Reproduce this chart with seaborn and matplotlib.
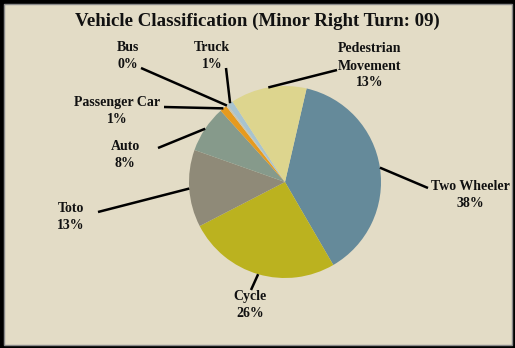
import numpy as np
import matplotlib
matplotlib.use("Agg")
import matplotlib.pyplot as plt
import seaborn as sns
from matplotlib.patches import Rectangle

# ---- data ----
categories = ["Two Wheeler", "Cycle", "Toto", "Auto", "Passenger Car", "Bus", "Truck", "Pedestrian\nMovement"]
shares = [38.0, 25.8, 13.0, 7.9, 1.2, 0.3, 1.0, 12.8]
colors = ["#658A9A", "#BBB21F", "#8F8A78", "#869A8B", "#E69A1E", "#C9C4B0", "#A8C3CE", "#DDD58E"]
title = "Vehicle Classification (Minor Right Turn: 09)"

# ---- layout (pixels in a 515x348 canvas) ----
W, H = 515, 348
cx, cy, R = 285, 182, 96
label_xy = {  # text block centre
    "Two Wheeler": (470, 195), "Cycle": (250, 305), "Toto": (71, 217), "Auto": (125, 155),
    "Passenger Car": (117, 111), "Bus": (128, 56), "Truck": (212, 56), "Pedestrian\nMovement": (370, 66),
}
line_end = {  # outer end of leader line
    "Two Wheeler": (428, 188), "Cycle": (251, 290), "Toto": (98, 212), "Auto": (158, 148),
    "Passenger Car": (164, 107), "Bus": (141, 68), "Truck": (226, 68), "Pedestrian\nMovement": (337, 70),
}

sns.set_theme(style="white")
plt.rcParams["font.family"] = ["Liberation Serif", "DejaVu Serif"]

bg = "#E3DCC6"
fig = plt.figure(figsize=(W / 100, H / 100), dpi=100)
fig.patch.set_facecolor(bg)
ax = fig.add_axes([(cx - R) / W, (H - cy - R) / H, 2 * R / W, 2 * R / H])
ax.set_facecolor("none")

wedges, _ = ax.pie(shares, colors=colors, startangle=90 - 13, counterclock=False,
                   radius=1.0, wedgeprops=dict(linewidth=0))
ax.set_xlim(-1, 1)
ax.set_ylim(-1, 1)
ax.set_aspect("equal")
ax.axis("off")

def to_data(px, py):
    return (px - cx) / R, (cy - py) / R

for w, cat, v in zip(wedges, categories, shares):
    mid = np.deg2rad((w.theta1 + w.theta2) / 2)
    x0, y0 = np.cos(mid), np.sin(mid)
    x1, y1 = to_data(*line_end[cat])
    ax.plot([x0, x1], [y0, y1], color="black", lw=1.8, clip_on=False, solid_capstyle="butt")
    tx, ty = to_data(*label_xy[cat])
    ax.text(tx, ty, f"{cat}\n{v:.0f}%", ha="center", va="center", fontsize=10,
            fontweight="bold", color="#111111", linespacing=1.4, clip_on=False)

fig.text(0.5, 1 - 21 / H, title, ha="center", va="center", fontsize=13.6,
         fontweight="bold", color="#111111")

fig.patches.append(Rectangle((0, 0), 1, 1, transform=fig.transFigure, fill=False,
                             edgecolor="black", linewidth=5, zorder=10))
fig.patches.append(Rectangle((3.5 / W, 3.5 / H), 1 - 7 / W, 1 - 7 / H, transform=fig.transFigure,
                             fill=False, edgecolor="#8A8A8A", linewidth=1, zorder=10))

fig.savefig("out.png", dpi=100, facecolor=bg)
